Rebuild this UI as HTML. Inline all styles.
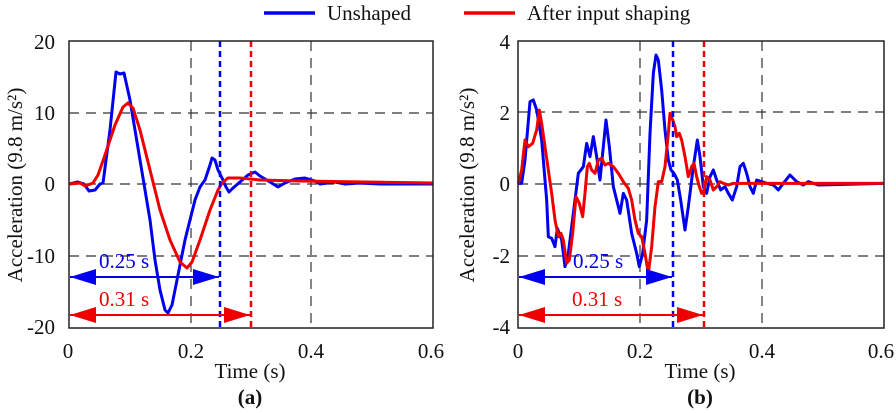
<!DOCTYPE html>
<html><head><meta charset="utf-8"><style>
body{margin:0;background:#fff}
svg{display:block}
text{font-family:"Liberation Serif",serif;font-size:21px;fill:#111}
</style></head><body>
<svg width="896" height="413" viewBox="0 0 896 413" xmlns="http://www.w3.org/2000/svg">
<!-- legend -->
<line x1="264" y1="13" x2="315" y2="13" stroke="#0000ee" stroke-width="3.5"/>
<text x="327" y="20">Unshaped</text>
<line x1="464" y1="13" x2="515" y2="13" stroke="#ee0000" stroke-width="3.5"/>
<text x="527" y="20">After input shaping</text>

<!-- LEFT -->
<g stroke="#333" stroke-width="1.2" stroke-dasharray="10,7" fill="none">
<line x1="191" y1="41" x2="191" y2="328"/><line x1="311" y1="41" x2="311" y2="328"/>
<line x1="69" y1="113" x2="433" y2="113"/><line x1="69" y1="184" x2="433" y2="184"/><line x1="69" y1="256" x2="433" y2="256"/>
</g>
<polyline fill="none" stroke="#0000ee" stroke-width="3" stroke-linejoin="round" points="69,184 78,182 84,184 89,191 95,190 100,184 103,183 110,130 116,72 120,74 124,73 130,100 140,160 150,220 155,260 160,290 165,310 168,313 172,305 177,280 185,240 195,200 200,187 205,180 210,165 212,158 215,160 218,170 222,178 226,187 229,192 233,188 240,182 248,175 255,172 260,176 270,182 278,187 285,183 295,179 305,178 315,181 320,184 335,182 345,184 360,183 380,184 433,184"/>
<polyline fill="none" stroke="#ee0000" stroke-width="3" stroke-linejoin="round" points="69,184 80,183 85,186 93,183 98,175 105,155 115,125 123,107 128,103 133,108 140,130 150,170 160,210 170,240 180,262 187,268 192,262 200,240 210,210 218,190 222,183 228,178 240,178 260,180 300,181 433,183"/>
<line x1="220" y1="41" x2="220" y2="328" stroke="#0000ee" stroke-width="2.5" stroke-dasharray="6,4"/>
<line x1="251" y1="41" x2="251" y2="328" stroke="#ee0000" stroke-width="2.5" stroke-dasharray="6,4"/>
<line x1="70" y1="277" x2="219" y2="277" stroke="#0000ee" stroke-width="2"/>
<path d="M70,277 L96,269 L96,285z M219,277 L193,269 L193,285z" fill="#0000ee"/>
<line x1="70" y1="315" x2="250" y2="315" stroke="#ee0000" stroke-width="2"/>
<path d="M70,315 L96,307 L96,323z M250,315 L224,307 L224,323z" fill="#ee0000"/>
<text x="99" y="268" style="fill:#0000ee">0.25 s</text>
<text x="99" y="306" style="fill:#ee0000">0.31 s</text>
<rect x="69" y="41" width="364" height="287" fill="none" stroke="#222" stroke-width="1.5"/>
<g text-anchor="end"><text x="55" y="49">20</text><text x="55" y="120">10</text><text x="55" y="191">0</text><text x="55" y="263">-10</text><text x="55" y="334">-20</text></g>
<g text-anchor="middle"><text x="68" y="358">0</text><text x="191" y="358">0.2</text><text x="311" y="358">0.4</text><text x="431" y="358">0.6</text>
<text x="250" y="378">Time (s)</text><text x="250" y="404" style="font-weight:bold">(a)</text></g>
<text transform="translate(22,185) rotate(-90)" text-anchor="middle">Acceleration (9.8 m/s²)</text>

<!-- RIGHT -->
<g stroke="#333" stroke-width="1.2" stroke-dasharray="10,7" fill="none">
<line x1="640" y1="41" x2="640" y2="328"/><line x1="762" y1="41" x2="762" y2="328"/>
<line x1="518" y1="112" x2="884" y2="112"/><line x1="518" y1="184" x2="884" y2="184"/><line x1="518" y1="256" x2="884" y2="256"/>
</g>
<g transform="translate(450,0) scale(0.33333)">
<polyline fill="none" stroke="#0000ee" stroke-width="9" stroke-linejoin="round" points="205,550 215,550 225,480 240,305 250,300 260,330 275,420 290,600 295,710 305,715 315,740 322,685 335,720 345,800 355,760 370,640 385,520 400,500 410,430 420,470 430,410 440,470 450,540 460,440 468,360 478,440 490,560 500,600 510,640 520,580 530,600 545,700 560,760 568,800 578,760 590,660 600,400 610,220 618,165 625,180 635,270 645,390 655,480 663,510 672,520 682,540 692,600 705,690 715,620 730,500 742,420 750,470 760,560 770,580 780,530 790,510 800,540 812,570 825,560 835,580 847,600 860,560 870,500 880,490 890,520 900,560 910,580 920,540 935,545 950,550 970,555 985,570 1000,550 1020,525 1040,545 1060,555 1075,545 1090,550 1105,555 1300,550"/>
<polyline fill="none" stroke="#ee0000" stroke-width="9" stroke-linejoin="round" points="205,550 215,510 225,420 235,440 248,430 260,390 268,330 275,370 285,440 295,510 305,580 315,660 325,710 333,700 340,720 350,790 358,780 368,700 378,590 388,610 398,650 405,580 412,500 418,490 425,510 435,520 445,480 455,475 465,495 475,490 490,500 505,520 520,545 535,565 545,600 555,660 565,700 575,710 585,760 595,820 605,740 615,620 625,545 635,545 645,500 655,400 660,340 668,360 675,380 680,410 688,400 695,420 705,470 715,530 725,500 732,490 740,530 748,560 755,580 762,570 770,530 780,540 790,570 800,560 810,545 820,550 835,555 850,550 900,550 1300,550"/>
</g>
<line x1="673" y1="41" x2="673" y2="328" stroke="#0000ee" stroke-width="2.5" stroke-dasharray="6,4"/>
<line x1="704" y1="41" x2="704" y2="328" stroke="#ee0000" stroke-width="2.5" stroke-dasharray="6,4"/>
<line x1="519" y1="277" x2="672" y2="277" stroke="#0000ee" stroke-width="2"/>
<path d="M519,277 L545,269 L545,285z M672,277 L646,269 L646,285z" fill="#0000ee"/>
<line x1="519" y1="315" x2="703" y2="315" stroke="#ee0000" stroke-width="2"/>
<path d="M519,315 L545,307 L545,323z M703,315 L677,307 L677,323z" fill="#ee0000"/>
<text x="573" y="268" style="fill:#0000ee">0.25 s</text>
<text x="572" y="306" style="fill:#ee0000">0.31 s</text>
<rect x="518" y="41" width="366" height="287" fill="none" stroke="#222" stroke-width="1.5"/>
<g text-anchor="end"><text x="510" y="49">4</text><text x="510" y="120">2</text><text x="510" y="191">0</text><text x="510" y="263">-2</text><text x="510" y="334">-4</text></g>
<g text-anchor="middle"><text x="518" y="358">0</text><text x="640" y="358">0.2</text><text x="762" y="358">0.4</text><text x="881" y="358">0.6</text>
<text x="700" y="378">Time (s)</text><text x="700" y="404" style="font-weight:bold">(b)</text></g>
<text transform="translate(474,185) rotate(-90)" text-anchor="middle">Acceleration (9.8 m/s²)</text>
</svg>
</body></html>
